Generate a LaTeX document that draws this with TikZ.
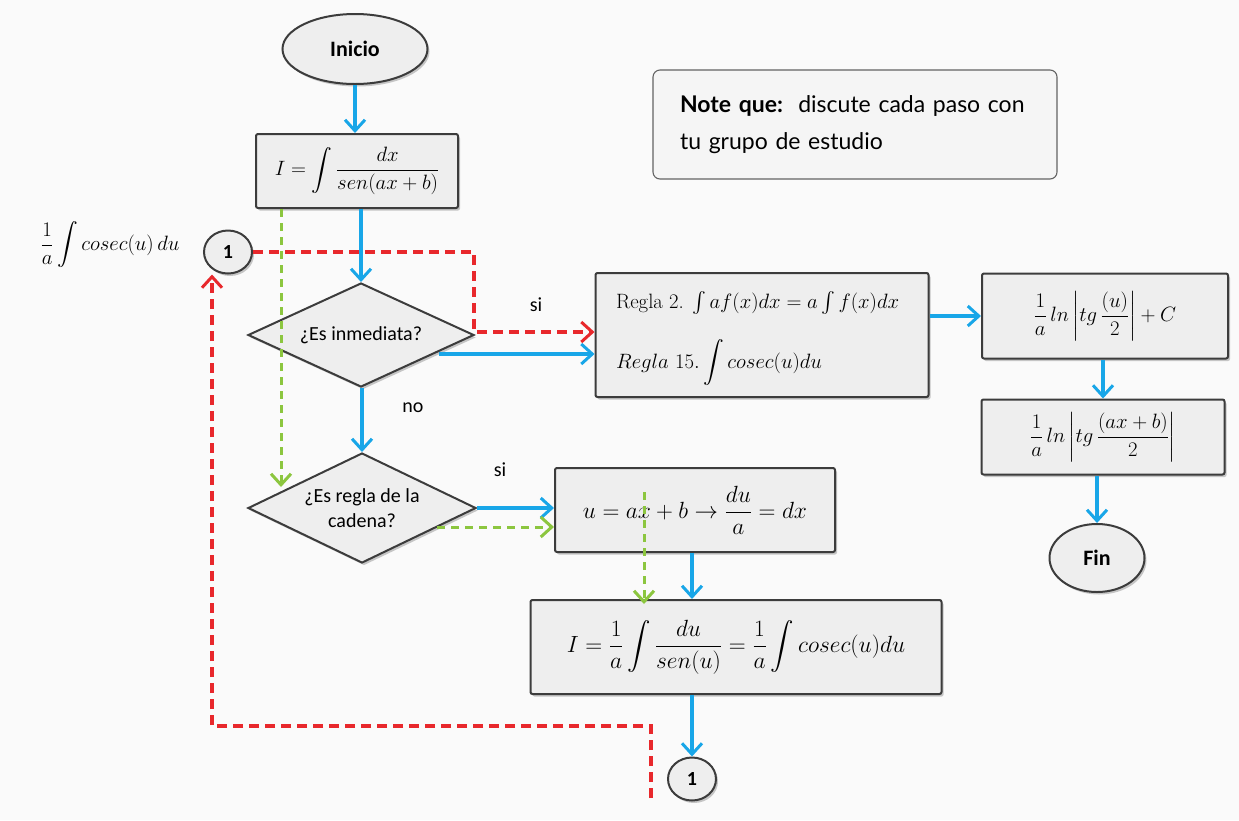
\documentclass[tikz,border=0pt]{standalone}
\usepackage{amsmath}
\usepackage{graphicx}
\usepackage{fontspec}
\newfontfamily\calfont{Carlito}
\newfontfamily\latofont{Lato}
\usetikzlibrary{arrows.meta,shapes.geometric,shadows,calc}
\definecolor{fcblue}{RGB}{24,166,232}
\definecolor{fcred}{RGB}{232,40,44}
\definecolor{fcgreen}{RGB}{140,198,63}
\definecolor{boxfill}{RGB}{238,238,238}
\definecolor{boxline}{RGB}{60,60,60}
\definecolor{bgcol}{RGB}{250,250,250}
\tikzset{
  shad/.style={drop shadow={shadow xshift=2pt,shadow yshift=-2.5pt,opacity=0.3,fill=black!70}},
  box/.style={draw=boxline,line width=2pt,fill=boxfill,rounded corners=2pt,shad,inner sep=0pt,
    font=\fontsize{20.74}{25}\selectfont},
  term/.style={ellipse,draw=boxline,line width=2pt,fill=boxfill,shad,inner sep=0pt,
    font=\calfont\bfseries\fontsize{22}{26}\selectfont},
  conn/.style={ellipse,draw=boxline,line width=2pt,fill=boxfill,shad,inner sep=0pt,
    minimum width=48,minimum height=43,font=\calfont\bfseries\fontsize{20}{24}\selectfont},
  dec/.style={diamond,draw=boxline,line width=2pt,fill=boxfill,shad,inner sep=0pt,
    font=\calfont\fontsize{20}{25}\selectfont,align=center},
  lbl/.style={font=\calfont\fontsize{20}{24}\selectfont,inner sep=0pt},
  tip/.style={-{Straight Barb[length=11pt,width=20pt,line width=3pt]}},
  bl/.style={tip,draw=fcblue,line width=3.5pt},
  rd/.style={tip,draw=fcred,line width=3.5pt,dash pattern=on 10pt off 6pt},
  gr/.style={tip,draw=fcgreen,line width=3pt,dash pattern=on 8pt off 6pt},
}
\begin{document}
\begin{tikzpicture}[x=1pt,y=-1pt]
\useasboundingbox (0,0) rectangle (1239,820);
\fill[bgcol] (0,0) rectangle (1239,820);

% nodes
\node[term,minimum width=145,minimum height=70] (inicio) at (355,49) {Inicio};
\node[box,minimum width=202,minimum height=74] (I) at (357,171)
  {$I=\displaystyle\int\frac{dx}{sen(ax+b)}$};
\node[conn] (c1) at (228,252) {1};
\node[font=\fontsize{20.74}{25}\selectfont,inner sep=0pt] (lab1) at (110,245)
  {$\dfrac{1}{a}\displaystyle\int cosec(u)\,du$};
\node[dec,minimum width=226,minimum height=104,aspect=2.17] (d1) at (361,335) {¿Es inmediata?};
\node[box,minimum width=333,minimum height=124] (regla) at (762,335) {};
\node[anchor=west,inner sep=0pt,font=\fontsize{20.74}{25}\selectfont] (r2) at (616,303)
  {Regla 2. $\int af(x)dx=a\int f(x)dx$};
\node[anchor=west,inner sep=0pt,font=\fontsize{20.74}{25}\selectfont] (r15) at (616,363)
  {$Regla\ 15.\displaystyle\int cosec(u)du$};
\node[box,minimum width=246,minimum height=85] (ln1) at (1105,316)
  {$\dfrac{1}{a}\,ln\left|tg\,\dfrac{(u)}{2}\right|+C$};
\node[box,minimum width=243,minimum height=75] (ln2) at (1103,437)
  {$\dfrac{1}{a}\,ln\left|tg\,\dfrac{(ax+b)}{2}\right|$};
\node[term,minimum width=95,minimum height=68] (fin) at (1097,558) {Fin};
\node[dec,minimum width=228,minimum height=110,aspect=2.07] (d2) at (362,508)
  {¿Es regla de la\\cadena?};
\node[box,minimum width=280,minimum height=84] (u) at (695,510)
  {\scalebox{1.13}{$u=ax+b\to\dfrac{du}{a}=dx$}};
\node[box,minimum width=411,minimum height=94] (I2) at (736,647)
  {\scalebox{1.13}{$I=\dfrac{1}{a}\displaystyle\int\frac{du}{sen(u)}=\frac{1}{a}\int cosec(u)du$}};
\node[conn] (c2) at (692,779) {1};
\node[draw=boxline!80,line width=1.1pt,fill=white!96!black,rounded corners=7pt,
  minimum width=404,minimum height=109,text width=350,align=left,inner xsep=27pt,
  font=\latofont\fontsize{23}{37}\selectfont] (note) at (855,124.5)
  {{\bfseries Note que:}\ \ discute cada paso con\\tu grupo de estudio};

\node[lbl] (si1) at (536,305) {si};
\node[lbl] (no1) at (413,408) {no};
\node[lbl] (si2) at (500,470) {si};

% coordinates
\coordinate (rA) at (474,332);
\coordinate (bA) at (439,354);
\coordinate (gA) at (281,487);
\coordinate (gB) at (437,527);
\coordinate (gC) at (644,492);
\coordinate (rB) at (651,798);
\coordinate (rC) at (212,726);

% blue connectors
\draw[bl] (inicio.south) -- (inicio.south |- I.north);
\draw[bl] (d1.north |- I.south) -- (d1.north);
\draw[bl] (d2.north |- d1.south) -- (d2.north);
\draw[bl] (bA) -- (bA -| regla.west);
\draw[bl] (ln1.west -| regla.east) -- (ln1.west);
\draw[bl] (ln2.north |- ln1.south) -- (ln2.north);
\draw[bl] (fin.north |- ln2.south) -- (fin.north);
\draw[bl] (d2.east) -- (d2.east -| u.west);
\draw[bl] (c2.north |- u.south) -- (c2.north |- I2.north);
\draw[bl] (c2.north |- I2.south) -- (c2.north);

% red connectors
\draw[rd] (c1.east) -| (rA) -- (rA -| regla.west);
\draw[rd] (rB) |- (rC) -- (rC |- c1.south);

% green connectors
\draw[gr] (gA |- I.south) -- (gA);
\draw[gr] (gB) -- (gB -| u.west);
\draw[gr] (gC) -- ($(gC |- I2.north)+(0,5)$);
\end{tikzpicture}
\end{document}
